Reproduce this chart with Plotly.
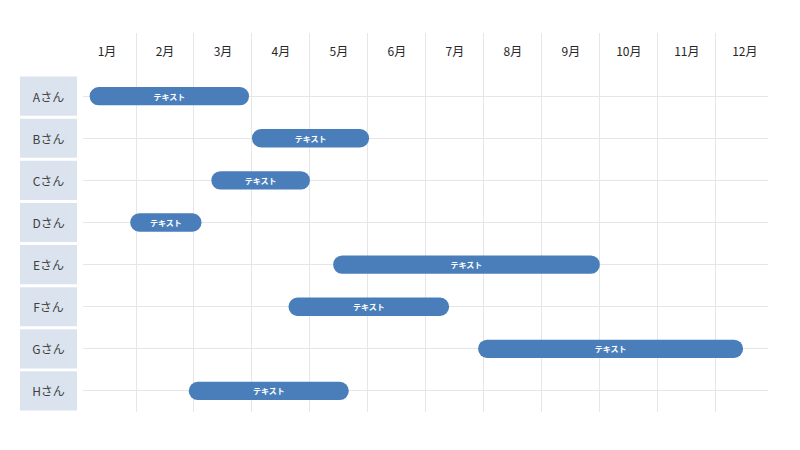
import plotly.graph_objects as go

people = ["Aさん", "Bさん", "Cさん", "Dさん", "Eさん", "Fさん", "Gさん", "Hさん"]
start_month = [0.2, 3.0, 2.3, 0.9, 4.4, 3.63, 6.9, 1.91]
end_month = [2.95, 5.02, 4.0, 2.13, 9.0, 6.4, 11.47, 4.67]
bar_labels = ["テキスト"] * 8
month_labels = ["1月", "2月", "3月", "4月", "5月", "6月", "7月", "8月", "9月", "10月", "11月", "12月"]
month_centers = [i + 0.5 for i in range(12)]

FONT = "Noto Sans CJK JP"
durations = [e - s for s, e in zip(start_month, end_month)]

fig = go.Figure()

# row label boxes on the left
fig.add_trace(go.Bar(
    y=people, x=[1] * len(people), base=0, orientation="h",
    xaxis="x2", yaxis="y",
    width=0.93,
    marker=dict(color="#dbe4ee", line=dict(width=0)),
    text=people, textposition="inside", insidetextanchor="middle",
    textfont=dict(family=FONT, size=12, color="#404040"),
    hoverinfo="skip", showlegend=False,
))

# gantt bars
fig.add_trace(go.Bar(
    y=people, x=durations, base=start_month, orientation="h",
    xaxis="x", yaxis="y",
    width=0.435,
    marker=dict(color="#4a7ebb", line=dict(width=0), cornerradius=9),
    text=bar_labels, textposition="inside", insidetextanchor="middle",
    textfont=dict(family=FONT, size=8, color="white", weight="bold"),
    textangle=0,
    hoverinfo="skip", showlegend=False,
))

fig.update_layout(
    width=800, height=450,
    margin=dict(l=12, r=40, t=25, b=46),
    paper_bgcolor="white", plot_bgcolor="white",
    font=dict(family=FONT),
    barmode="overlay",
    uniformtext=dict(minsize=7, mode="show"),
    xaxis=dict(
        domain=[(83 - 20) / 748, 1.0],
        range=[0.086, 11.9],
        side="top",
        tickmode="array", tickvals=month_centers, ticktext=month_labels,
        ticklabelposition="inside", ticklabelstandoff=12,
        tickfont=dict(family=FONT, size=12, color="#262626"),
        ticks="", showgrid=False, zeroline=False, showline=False,
        minor=dict(tickmode="linear", tick0=0, dtick=1, showgrid=True,
                   gridcolor="#e6e6e6", gridwidth=1, ticks=""),
        fixedrange=True,
    ),
    xaxis2=dict(
        domain=[0.0, (77 - 20) / 748],
        range=[0, 1], anchor="y",
        showgrid=False, zeroline=False, showticklabels=False, showline=False,
        fixedrange=True,
    ),
    yaxis=dict(
        type="category",
        categoryorder="array", categoryarray=people,
        range=[7.5, -1.5],
        showticklabels=False, ticks="",
        showgrid=True, gridcolor="#e6e6e6", gridwidth=1,
        zeroline=False, showline=False,
        fixedrange=True,
    ),
)

fig.write_html("out.html")
